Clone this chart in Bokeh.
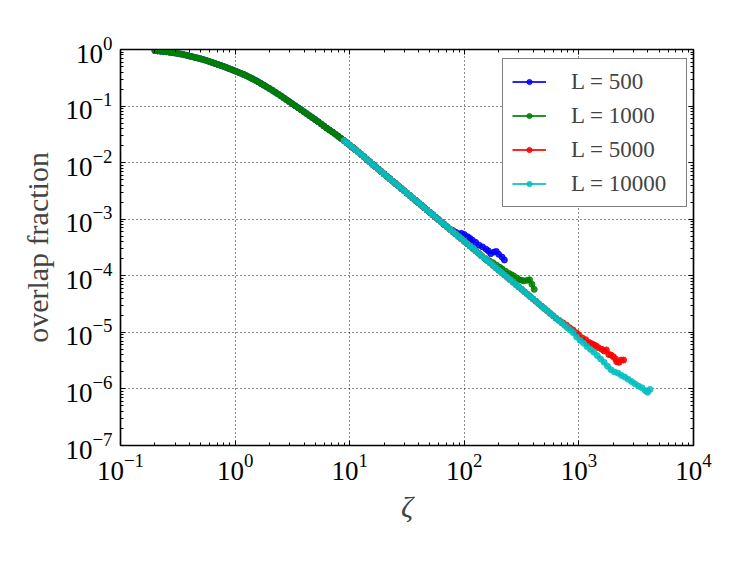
import numpy as np
from bokeh.plotting import figure
from bokeh.models import (LogAxis, FixedTicker, LogTickFormatter, Legend,
                          LegendItem, Range1d, CustomJSTickFormatter)
from bokeh.embed import file_html
from bokeh.resources import INLINE

# ---------------- data (log10 values) ----------------
# common collapse curve shared by all system sizes
CORE_LOG_ZETA = [
    -0.700, -0.675, -0.650, -0.625, -0.600, -0.575, -0.550, -0.525, -0.500, -0.475,
    -0.450, -0.425, -0.400, -0.375, -0.350, -0.325, -0.300, -0.275, -0.250, -0.225,
    -0.200, -0.175, -0.150, -0.125, -0.100, -0.075, -0.050, -0.025, 0.000, 0.025,
    0.050, 0.075, 0.100, 0.125, 0.150, 0.175, 0.200, 0.225, 0.250, 0.275,
    0.300, 0.325, 0.350, 0.375, 0.400, 0.425, 0.450, 0.475, 0.500, 0.525,
    0.550, 0.575, 0.600, 0.625, 0.650, 0.675, 0.700, 0.725, 0.750, 0.775,
    0.800, 0.825, 0.850, 0.875, 0.900, 0.925, 0.950, 0.975, 1.000, 1.025,
    1.050, 1.075, 1.100, 1.125, 1.150, 1.175, 1.200, 1.225, 1.250, 1.275,
    1.300, 1.325, 1.350, 1.375, 1.400, 1.425, 1.450, 1.475, 1.500, 1.525,
    1.550, 1.575, 1.600, 1.625, 1.650, 1.675, 1.700, 1.725, 1.750, 1.775,
    1.800, 1.825, 1.850, 1.875, 1.900, 1.925, 1.950, 1.975, 2.000, 2.025,
    2.050, 2.075, 2.100, 2.125, 2.150, 2.175, 2.200, 2.225, 2.250, 2.275,
    2.300, 2.325, 2.350, 2.375, 2.400, 2.425, 2.450, 2.475, 2.500, 2.525,
    2.550, 2.575, 2.600, 2.625, 2.650, 2.675, 2.700, 2.725, 2.750, 2.775,
    2.800, 2.825, 2.850, 2.875, 2.900, 2.925, 2.950, 2.975, 3.000]
CORE_LOG_OVERLAP = [
    -0.020, -0.025, -0.030, -0.035, -0.040, -0.047, -0.055, -0.062, -0.070, -0.080,
    -0.090, -0.102, -0.115, -0.127, -0.140, -0.152, -0.165, -0.180, -0.195, -0.212,
    -0.230, -0.247, -0.265, -0.282, -0.300, -0.320, -0.340, -0.360, -0.380, -0.400,
    -0.420, -0.442, -0.465, -0.490, -0.515, -0.542, -0.570, -0.600, -0.630, -0.660,
    -0.690, -0.722, -0.755, -0.787, -0.820, -0.855, -0.890, -0.925, -0.960, -0.995,
    -1.030, -1.065, -1.100, -1.135, -1.170, -1.205, -1.240, -1.277, -1.315, -1.352,
    -1.390, -1.425, -1.460, -1.497, -1.535, -1.572, -1.610, -1.650, -1.690, -1.730,
    -1.770, -1.812, -1.855, -1.897, -1.940, -1.985, -2.030, -2.072, -2.115, -2.157,
    -2.200, -2.242, -2.285, -2.327, -2.370, -2.412, -2.455, -2.497, -2.540, -2.582,
    -2.625, -2.667, -2.710, -2.752, -2.795, -2.837, -2.880, -2.922, -2.965, -3.007,
    -3.050, -3.092, -3.135, -3.177, -3.220, -3.262, -3.305, -3.347, -3.390, -3.432,
    -3.475, -3.517, -3.560, -3.602, -3.645, -3.687, -3.730, -3.772, -3.815, -3.857,
    -3.900, -3.942, -3.985, -4.027, -4.070, -4.112, -4.155, -4.197, -4.240, -4.282,
    -4.325, -4.367, -4.410, -4.452, -4.495, -4.537, -4.580, -4.622, -4.665, -4.707,
    -4.750, -4.792, -4.835, -4.877, -4.920, -4.962, -5.005, -5.047, -5.090]

# finite-size tails of each series
TAIL_500_LZ = [1.90, 1.925, 1.95, 1.975, 2.00, 2.03, 2.05, 2.07, 2.10, 2.13, 2.16, 2.19, 2.21, 2.23, 2.26, 2.28, 2.30, 2.33, 2.35]
TAIL_500_LF = [-3.20, -3.23, -3.26, -3.25, -3.27, -3.31, -3.34, -3.37, -3.41, -3.46, -3.49, -3.53, -3.56, -3.61, -3.58, -3.57, -3.62, -3.67, -3.72]

TAIL_1000_LZ = [2.18, 2.20, 2.22, 2.25, 2.28, 2.31, 2.33, 2.36, 2.39, 2.41, 2.43, 2.46, 2.48, 2.50, 2.52, 2.55, 2.57, 2.59, 2.61]
TAIL_1000_LF = [-3.70, -3.72, -3.74, -3.77, -3.81, -3.85, -3.88, -3.92, -3.96, -3.98, -4.00, -4.04, -4.07, -4.08, -4.09, -4.08, -4.07, -4.15, -4.24]

TAIL_5000_LZ = [2.83, 2.86, 2.89, 2.92, 2.95, 2.98, 3.00, 3.03, 3.06, 3.09, 3.11, 3.13, 3.15, 3.17, 3.20,
                3.22, 3.24, 3.26, 3.28, 3.30, 3.32, 3.33, 3.35, 3.37, 3.39]
TAIL_5000_LF = [-4.79, -4.83, -4.87, -4.92, -4.96, -5.01, -5.05, -5.10, -5.13, -5.18, -5.20, -5.22, -5.24, -5.27, -5.30,
                -5.33, -5.31, -5.39, -5.40, -5.43, -5.47, -5.52, -5.53, -5.49, -5.49]

TAIL_10000_LZ = [2.98, 3.01, 3.04, 3.07, 3.10, 3.13, 3.16, 3.19, 3.22, 3.25, 3.28, 3.31, 3.34, 3.37, 3.40,
                 3.43, 3.46, 3.49, 3.52, 3.55, 3.58, 3.60, 3.62]
TAIL_10000_LF = [-5.08, -5.14, -5.19, -5.25, -5.30, -5.35, -5.41, -5.47, -5.53, -5.60, -5.66, -5.70, -5.72, -5.76, -5.79,
                 -5.83, -5.87, -5.91, -5.95, -5.98, -6.03, -6.06, -6.01]

# range of the collapse curve covered by each series (log10 zeta)
SERIES = [
    ("L = 500",   (-0.70, 1.875), TAIL_500_LZ,   TAIL_500_LF,   "#0000ff"),
    ("L = 1000",  (-0.70, 2.15),  TAIL_1000_LZ,  TAIL_1000_LF,  "#008000"),
    ("L = 5000",  (0.95, 2.80),   TAIL_5000_LZ,  TAIL_5000_LF,  "#ff0000"),
    ("L = 10000", (0.95, 2.95),   TAIL_10000_LZ, TAIL_10000_LF, "#00bfbf"),
]

X_MAJOR = [0.1, 1, 10, 100, 1000, 10000]
Y_MAJOR = [1e-7, 1e-6, 1e-5, 1e-4, 1e-3, 1e-2, 1e-1, 1]

def minor(majors):
    return [m * k for m in majors[:-1] for k in range(2, 10)]

FONT = "Liberation Serif"

p = figure(width=731, height=545, x_axis_type="log", y_axis_type="log",
           x_range=Range1d(0.1, 1e4), y_range=Range1d(1e-7, 1),
           output_backend="svg", toolbar_location=None,
           min_border_left=120, min_border_right=38, min_border_top=49, min_border_bottom=100)
p.background_fill_color = "white"
p.border_fill_color = "white"
p.outline_line_color = "black"
p.outline_line_width = 1.5

bottom_ax = p.below[0]
left_ax = p.left[0]

core_lz = np.array(CORE_LOG_ZETA)
core_lf = np.array(CORE_LOG_OVERLAP)
items = []
for label, (lo, hi), tlz, tlf, color in SERIES:
    mask = (core_lz >= lo - 1e-9) & (core_lz <= hi + 1e-9)
    lz = np.concatenate([core_lz[mask], tlz])
    lf = np.concatenate([core_lf[mask], tlf])
    xs = 10 ** lz
    ys = 10 ** lf
    r1 = p.line(xs, ys, line_color=color, line_width=1.8, line_alpha=0.85)
    r2 = p.scatter(xs, ys, size=6, marker="circle", fill_color=color, line_color=color,
                   fill_alpha=0.85, line_alpha=0.85)
    items.append(LegendItem(label=label, renderers=[r1, r2]))

# axes styling
def style_axis(ax, show_labels):
    ax.major_tick_in = 5
    ax.major_tick_out = 0
    ax.minor_tick_in = 3
    ax.minor_tick_out = 0
    ax.axis_line_color = "black"
    ax.axis_line_width = 1.2
    ax.major_tick_line_color = "black"
    ax.minor_tick_line_color = "black"
    if show_labels:
        ax.major_label_text_font = FONT
        ax.major_label_text_font_size = "27px"
        ax.major_label_text_color = "black"
        ax.major_label_standoff = 8
    else:
        ax.major_label_text_font_size = "8px"
        ax.major_label_standoff = 0

xt = FixedTicker(ticks=X_MAJOR, minor_ticks=minor(X_MAJOR))
yt = FixedTicker(ticks=Y_MAJOR, minor_ticks=minor(Y_MAJOR))

bottom_ax.ticker = xt
left_ax.ticker = yt
bottom_ax.formatter = LogTickFormatter()
left_ax.formatter = LogTickFormatter()
style_axis(bottom_ax, True)
style_axis(left_ax, True)

blank = CustomJSTickFormatter(code="return ''")
top = LogAxis(ticker=xt, formatter=blank)
right = LogAxis(ticker=yt, formatter=blank)
style_axis(top, False)
style_axis(right, False)
p.add_layout(top, "above")
p.add_layout(right, "right")

bottom_ax.axis_label = "ζ"
bottom_ax.axis_label_text_font = FONT
bottom_ax.axis_label_text_font_size = "30px"
bottom_ax.axis_label_text_font_style = "italic"
bottom_ax.axis_label_standoff = 7
left_ax.axis_label = "overlap fraction"
left_ax.axis_label_text_font = FONT
left_ax.axis_label_text_font_size = "30px"
left_ax.axis_label_text_font_style = "normal"
left_ax.axis_label_standoff = 8

p.xgrid.ticker = xt
p.ygrid.ticker = yt
p.grid.grid_line_color = "black"
p.grid.grid_line_dash = "1 3"
p.grid.grid_line_alpha = 0.9
p.grid.grid_line_width = 1

# legend placed by its bottom-left corner, in pixels from the frame's bottom-left
legend = Legend(items=items, location=(382, 238))
legend.label_text_font = FONT
legend.label_text_font_size = "23px"
legend.glyph_width = 34
legend.glyph_height = 13
legend.label_height = 27
legend.label_width = 106
legend.label_standoff = 25
legend.spacing = 7
legend.padding = 9
legend.margin = 0
legend.border_line_color = "black"
legend.border_line_width = 1.2
legend.background_fill_color = "white"
legend.background_fill_alpha = 1.0
p.add_layout(legend)

open("out.html", "w").write(file_html(p, INLINE))
